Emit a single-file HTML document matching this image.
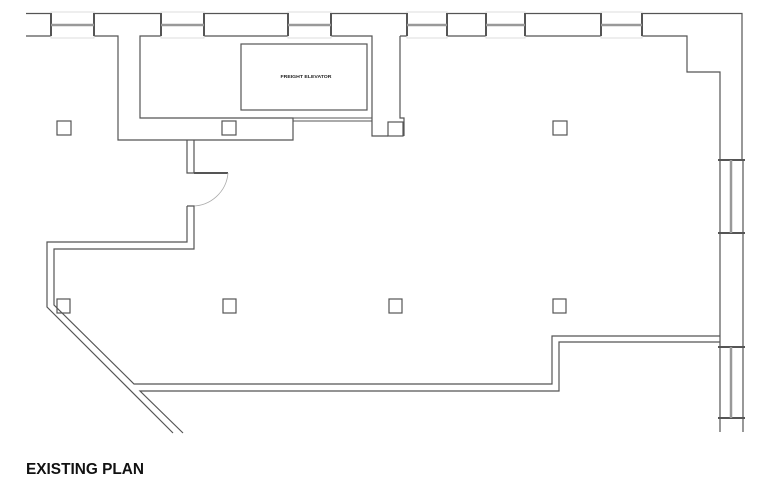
<!DOCTYPE html>
<html><head><meta charset="utf-8"><style>
html,body{margin:0;padding:0;background:#fff;width:760px;height:480px;overflow:hidden}
svg{display:block}
</style></head><body>
<svg width="760" height="480" viewBox="0 0 760 480" xmlns="http://www.w3.org/2000/svg">
<g fill="none" stroke="#555" stroke-width="1.2">
<path d="M26 13.5 H742 V160"/>
<path d="M26 36 H118 V140 H293 V118 H140 V36 H372 V136 H388"/>
<path d="M400 36 V118 H404 V136"/>
<path d="M400 36 H687 V72 H720 V160"/>
<path d="M293 118 H372 M293 121 H372" stroke-width="0.9"/>
<rect x="241" y="44" width="126" height="66"/>
<path d="M187 140 V173 H194 V140"/>
<path d="M194 173 H228" stroke-width="2"/>
<path d="M228 173 A36 36 0 0 1 192 206" stroke="#aaa" stroke-width="0.8"/>
<path d="M187 206 H194 V249 H54 V305 L134 384 H552 V336 H720"/>
<path d="M187 206 V242 H47 V307 L173 433"/>
<path d="M183 433 L140 391 H559 V342 H720"/>
<path d="M720 160 V432 M743 160 V432"/>
<path d="M718 160 H745 M718 233 H745 M718 347 H745 M718 418 H745" stroke-width="2"/>
<path d="M731 160 V233 M731 347 V418" stroke="#999" stroke-width="2.5"/>
<rect x="57" y="121" width="14" height="14"/>
<rect x="222" y="121" width="14" height="14"/>
<rect x="388" y="122" width="15" height="14"/>
<rect x="553" y="121" width="14" height="14"/>
<rect x="57" y="299" width="13" height="14"/>
<rect x="223" y="299" width="13" height="14"/>
<rect x="389" y="299" width="13" height="14"/>
<rect x="553" y="299" width="13" height="14"/>
</g>
<g stroke-width="1">
<rect x="51" y="12" width="43" height="26" fill="#fff" stroke="#ddd"/>
<rect x="161" y="12" width="43" height="26" fill="#fff" stroke="#ddd"/>
<rect x="288" y="12" width="43" height="26" fill="#fff" stroke="#ddd"/>
<rect x="407" y="12" width="40" height="26" fill="#fff" stroke="#ddd"/>
<rect x="486" y="12" width="39" height="26" fill="#fff" stroke="#ddd"/>
<rect x="601" y="12" width="41" height="26" fill="#fff" stroke="#ddd"/>
</g>
<g stroke="#555" stroke-width="2" fill="none">
<path d="M51 13V36M94 13V36M161 13V36M204 13V36M288 13V36M331 13V36M407 13V36M447 13V36M486 13V36M525 13V36M601 13V36M642 13V36"/>
</g>
<g stroke="#999" stroke-width="2.5" fill="none">
<path d="M51 25H94M161 25H204M288 25H331M407 25H447M486 25H525M601 25H642"/>
</g>
<text x="306" y="78" font-family="Liberation Sans, sans-serif" font-size="4.6" font-weight="bold" text-anchor="middle" fill="#222" textLength="51" lengthAdjust="spacingAndGlyphs">FREIGHT ELEVATOR</text>
<text x="26" y="474" font-family="Liberation Sans, sans-serif" font-size="16" font-weight="bold" fill="#111" textLength="118" lengthAdjust="spacingAndGlyphs">EXISTING PLAN</text>
</svg>
</body></html>
